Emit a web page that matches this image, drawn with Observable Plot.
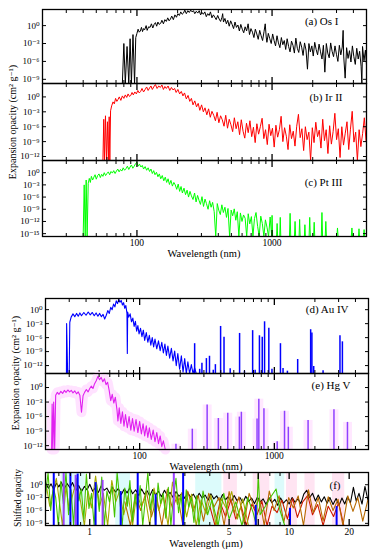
<!DOCTYPE html>
<html><head><meta charset="utf-8">
<script src="https://cdn.jsdelivr.net/npm/d3@7"></script>
<script src="https://cdn.jsdelivr.net/npm/@observablehq/plot@0.6"></script>
<style>
body{margin:0;background:#fff;}
#fig{position:relative;width:380px;height:550px;font-family:"Liberation Serif","DejaVu Serif",serif;color:#000;}
.ytitle{position:absolute;transform:translate(-50%,-50%) rotate(-90deg);white-space:nowrap;font-size:10px;}
.xtitle{position:absolute;transform:translate(-50%,-50%);white-space:nowrap;font-size:10.5px;}
</style></head><body><div id="fig"></div>
<script>
// ---------- DATA (wavelength, log10 opacity) ----------
const osI = [[78,-9.7],[80,-3.0],[82,-9.7],[84.5,-3.5],[87,-9.7],[89,-2.2],[91,-9.7],[93.5,-1.5],[96,-9.7],[98,-2.0],
[100,-1.3],[102,-0.6],[104,-1.1],[106,-0.9],[108,-0.3],[110,-1.0],[112,-0.5],[114,-0.7],[117,0.0],[119,-0.8],[122,-0.2],[125,-0.3],[128,0.3],[131,-0.4],[134,0.2],[137,0.5],[140,-0.1],[143,0.6],[146,0.2],[150,0.4],[153,0.9],[157,0.3],[161,1.0],[165,0.7],[169,1.3],[173,0.8],[177,1.1],[181,1.6],[186,1.0],[191,1.8],[196,1.4],[201,2.0],
[206,1.7],[211,2.3],[216,1.9],[221,2.1],[226,2.6],[232,2.0],[238,2.5],[244,2.2],[250,2.6],[256,2.3],[262,2.5],[268,2.0],[275,2.4],[282,2.1],[289,2.5],[296,1.8],[303,2.2],[310,1.9],[318,2.3],[326,1.5],[334,2.0],[342,1.7],[350,2.3],[359,1.3],[368,1.8],[377,1.4],[386,1.0],[396,1.7],[406,1.1],[416,0.7],[426,1.4],[431,2.0],[437,0.6],[448,1.2],
[459,0.3],[470,0.9],[482,-0.1],[494,0.8],[506,0.2],[519,-0.5],[532,0.6],[545,-0.3],[559,0.1],[573,-0.9],[587,0.2],[602,-0.6],[617,-1.2],[632,-0.2],[648,-0.9],[665,0.3],[681,-1.5],[698,-0.5],[716,-1.1],[734,-2.0],[752,-0.6],[771,-1.4],[790,-2.3],[810,-0.8],[830,-1.7],[851,-2.5],[872,-1.0],[890,0.3],[905,-1.9],[916,-2.8],[938,-1.3],[962,-2.2],[986,-3.0],[1010,-1.4],
[1035,-2.5],[1061,-3.4],[1088,-1.7],[1115,-2.9],[1143,-3.7],[1172,-2.0],[1201,-3.2],[1231,-2.5],[1262,-4.0],[1293,-2.2],[1326,-3.5],[1359,-4.4],[1393,-2.6],[1428,-3.3],[1463,-4.6],[1500,-2.1],[1538,-3.8],[1576,-4.5],[1616,-2.7],[1656,-3.6],[1697,-5.0],[1740,-2.9],[1784,-4.1],[1828,-7.3],[1874,-3.0],[1921,-4.4],[1969,-3.4],[2018,-5.1],[2069,-2.8],[2120,-4.0],[2173,-4.9],[2228,-3.1],[2284,-4.4],[2341,-5.6],[2399,-3.3],[2459,-7.8],[2521,-3.0],[2584,-4.6],[2648,-5.4],[2715,-2.9],[2782,-4.3],[2852,-5.2],[2923,-3.4],[2996,-4.8],[3071,-6.0],[3148,-3.3],[3227,-4.9],[3307,-3.6],[3358,-0.8],[3390,-5.1],[3475,-8.8],[3562,-3.7],[3651,-5.5],[3742,-4.2],[3836,-6.1],[3932,-3.4],[4030,-5.2],[4130,-6.5],[4234,-3.8],[4340,-5.6],[4448,-4.3],[4560,-6.8],[4620,-9.7],[4674,-3.5],[4790,-5.9],[4910,-4.1],[5000,-6.6]];

const irII = [[56,-12.8],[56.8,-4.5],[57.5,-12.8],[58.5,-3.8],[59.5,-12.8],[60.5,-5.0],[61.5,-12.8],[62.3,-4.0],[63,-12.8],[63.8,-2.8],
[65,-1.8],[66.5,-1.0],[68,-1.4],[69.5,-0.3],[71,-0.9],[72.5,-0.5],[74,0.0],[76,-0.7],[78,0.2],[80,-0.3],[82,0.4],[84,-0.1],[86,0.6],[88,0.1],[90,0.3],[92,0.9],[94,0.4],[96.5,1.0],[99,0.6],[101.5,1.3],[104,0.8],[106.5,1.1],[109,1.7],[112,1.0],[115,1.5],[118,2.0],[121,1.3],[124,1.8],[127,2.2],[130,1.5],[133,2.0],[137,2.5],[141,1.7],[145,2.2],[149,1.9],[153,2.4],[157,1.5],[161,2.1],[165,1.7],[170,2.2],[175,1.3],[180,1.9],[185,1.4],[190,1.7],[195,0.9],[201,1.5],[207,0.6],[213,1.1],[219,0.2],[225,0.8],[232,-0.4],[239,0.3],[246,-0.9],[253,-0.3],[260,-1.6],[268,-0.8],[276,-2.0],[284,-1.3],[292,-2.7],[301,-1.6],[310,-3.0],[319,-2.2],[329,-3.6],[339,-2.4],[349,-4.1],[359,-2.9],[370,-3.7],[381,-4.8],[392,-3.1],[404,-5.2],[416,-3.8],[428,-4.6],[441,-5.9],[454,-3.7],[468,-6.3],[482,-4.5],[496,-5.6],[511,-7.0],[526,-4.2],[542,-6.4],[558,-5.0],[575,-7.6],[592,-4.6],[610,-6.9],[628,-8.3],[647,-5.3],[666,-7.2],[686,-4.8],[707,-8.0],[728,-6.1],[750,-9.2],[772,-5.4],[795,-7.5],[819,-6.0],[844,-4.3],[869,-8.4],[895,-6.6],[922,-9.6],[950,-5.5],[978,-7.8],[1007,-6.3],
[1037,-10.1],[1068,-5.7],[1100,-8.1],[1133,-6.6],[1167,-3.9],[1202,-9.0],[1238,-6.2],[1275,-7.9],[1313,-10.6],[1352,-5.6],[1393,-8.4],[1435,-6.9],[1478,-9.9],[1522,-5.9],[1568,-3.5],[1615,-8.2],[1663,-6.4],[1713,-10.8],[1764,-6.0],[1817,-8.6],[1872,-7.1],[1928,-12.8],[1986,-6.2],[2045,-9.2],[2107,-5.1],[2170,-8.0],[2235,-6.7],[2302,-10.3],[2371,-4.5],[2442,-8.8],[2515,-6.6],[2591,-11.4],[2668,-5.8],[2748,-9.5],[2831,-7.0],[2916,-3.3],[3003,-8.6],[3093,-6.4],[3186,-12.2],[3282,-6.0],[3380,-9.7],[3481,-7.3],[3586,-5.0],[3693,-10.6],[3804,-6.5],[3918,-2.9],[4036,-9.1],[4157,-7.1],[4282,-12.8],[4410,-6.6],[4542,-10.0],[4679,-7.4],[4819,-4.2],[4964,-9.0]];

const ptIII = [[40,-15.7],[40.7,-3.0],[41.4,-15.7],[42.1,-1.8],[42.8,-15.7],[43.6,-2.6],[44.4,-1.4],[45.2,-2.4],[46,-0.9],[47,-1.8],[48,-1.1],[49,-0.5],[50,-1.6],[51.2,-0.7],[52.4,-0.3],[53.6,-1.2],[54.8,-0.4],[56,-0.9],[57.3,0.0],[58.6,-0.7],[60,-0.2],[61.4,0.2],[62.8,-0.5],[64.3,0.3],[65.8,-0.1],[67.3,0.5],[68.9,-0.2],[70.5,0.4],[72.1,0.9],[73.8,0.2],[75.5,0.8],[77.3,0.4],[79.1,1.2],[81,0.6],[83,1.0],[85,1.6],[87,0.8],[89,1.4],[91,1.9],[93.2,1.1],[95.4,1.6],[97.6,2.2],[100,2.6],[102,1.6],[104.5,2.1],[107,1.4],[109.5,1.8],[112,0.9],[115,1.5],[118,0.6],[121,1.2],[124,0.3],[127,0.9],[130,-0.2],[133,0.5],[136,-0.5],[139.5,0.1],[143,-1.0],[146.5,-0.3],[150,-1.5],[154,-0.7],[158,-2.0],[162,-1.1],[166,-2.4],[170,-1.5],[174,-2.9],[178.5,-1.9],[183,-3.3],[187.5,-2.4],[192,-3.0],[197,-4.1],[202,-2.8],[207,-4.6],[212,-3.4],[217,-5.0],[223,-3.8],[229,-5.4],[235,-4.3],[241,-6.0],[247,-4.6],[253,-5.7],[260,-6.6],[267,-5.0],[274,-7.2],[281,-5.6],[288,-6.8],[295,-7.8],[303,-5.9],[311,-8.3],[319,-6.5],[327,-7.6],[336,-9.0],[345,-6.9],[354,-8.5],[363,-7.3],[373,-9.6],[383,-15.7],[393,-7.6],[403,-9.2],[414,-10.3],[425,-7.9],[436,-9.8],[448,-8.5],[460,-11.0],[472,-8.8],[485,-15.7],[498,-9.2],[511,-10.6],[525,-8.9],[539,-11.7],[553,-9.6],[568,-15.7],[583,-9.9],[599,-12.0],[615,-10.4],[632,-11.2],[649,-15.7],[666,-10.1],[684,-12.6],[703,-10.8],[722,-15.7],[741,-11.3],[761,-9.8],[782,-13.2],[803,-15.7],[825,-10.7],[847,-12.5],[870,-15.7],[893,-11.6],[917,-13.4],[942,-15.7],[968,-10.9],[994,-15.7],
[1000,-10.5],[1010,-15.7],[1080,-15.7],[1090,-12.5],[1100,-15.7],[1140,-15.7],[1150,-11.0],[1160,-15.7],[1345,-15.7],[1360,-10.0],[1375,-15.7],[1465,-15.7],[1480,-12.0],[1495,-15.7],[1585,-15.7],[1600,-11.5],[1615,-15.7],[1735,-15.7],[1750,-12.8],[1765,-15.7],[1880,-15.7],[1900,-11.0],[1920,-15.7],[2030,-15.7],[2050,-12.2],[2070,-15.7],[2315,-15.7],[2340,-9.8],[2365,-15.7],[2475,-15.7],[2500,-12.0],[2525,-15.7],[3020,-15.7],[3050,-13.6],[3080,-15.7],[3860,-15.7],[3900,-13.6],[3940,-15.7],[4360,-15.7],[4400,-13.8],[4440,-15.7],[4750,-15.7],[4800,-14.0],[4850,-15.7]];

const auIV = [[28.6,-13.7],[28.7,-3.0],[29.2,-13.7],[30,-13.7],[30.3,-2.7],[31,-1.6],[32,-0.9],[33,-1.5],[34,-0.8],[35,-1.4],[36,-0.7],[37,-1.3],[38.5,-0.6],[40,-1.2],[41.5,-0.5],[43,-1.1],[44.5,-0.6],[46,-1.3],[47.5,-0.7],[49,-1.4],[50.5,-0.8],[52,-1.5],[53.5,-1.0],[55,-2.0],[56.5,-1.2],[58,-0.2],[59.5,-0.8],[61,0.5],[62.5,0.0],[64,1.2],[65.5,0.6],[67,1.9],[68.5,1.3],[70,2.2],[71.5,1.6],[73,2.0],[74.5,1.0],[76,1.5],[77.5,0.3],[79,0.9],[80.5,-0.8],[81,-9.4],[81.5,-0.5],[83,-1.6],[85,-0.9],[87,-2.6],[89,-1.8],[91,-3.6],[93,-2.5],[95,-4.6],[97,-3.4],[99,-5.2],[101.5,-4.0],[104,-5.8],[106.5,-4.4],[109,-6.6],[112,-4.9],[115,-7.0],[118,-5.5],[121,-7.6],[124,-6.0],[127,-8.0],[130,-6.3],[134,-8.4],[138,-6.7],[142,-8.8],[146,-7.0],[150,-9.3],[154,-7.4],[158,-9.8],[162,-7.8],[167,-10.4],[172,-8.3],[177,-11.0],[182,-8.9],[187,-12.0],[192,-9.4],[198,-12.8],[204,-9.9],[210,-13.4],[216,-10.5],[222,-13.7],[228,-11.2],[235,-13.7],[242,-11.8],[249,-13.7],[256,-12.5],[263,-13.7]];
const auIVLines = [[256,-7.3],[279,-12.8],[290,-11.5],[313,-10.5],[330,-10.0],[352,-13.0],[365,-11.8],[399,-3.6],[423,-5.9],[470,-12.7],[552,-5.1],[600,-13.2],[690,-4.5],[720,-13.0],[775,-5.6],[813,-5.9],[846,-2.6],[910,-4.0],[960,-12.8],[1110,-7.3],[1160,-12.6],[1250,-13.2],[1490,-10.7],[1860,-4.3],[1900,-5.0],[1960,-12.2],[2300,-13.1],[3070,-5.6],[3200,-6.9]];

const hgV = [[22.2,-12.8],[22.4,-3.4],[22.7,-12.8],[23,-3.0],[23.4,-12.8],[23.8,-1.6],[24.5,-1.0],[25.2,-1.4],[26,-0.8],[26.8,-1.2],[27.6,-0.6],[28.4,-1.0],[29.3,-0.5],[30.2,-0.9],[31.1,-0.6],[32,-1.1],[33,-0.7],[34,-1.3],[35,-0.9],[36,-1.6],[37,-5.1],[38,-1.7],[39,-1.0],[40.2,-0.4],[41.4,-0.9],[42.6,-0.2],[43.8,0.3],[45,-0.2],[46.3,0.8],[47.6,1.4],[49,2.3],[50.4,1.6],[51.8,2.1],[53.3,1.2],[54.8,1.8],[56.3,0.6],[57.8,1.1],[59.4,-0.6],[61,-2.7],[62.6,-1.4],[64.3,-3.2],[66,-2.0],[67.8,-4.5],[69,-6.9],[70.5,-4.2],[72.5,-7.4],[74.5,-5.0],[76.5,-8.0],[78.5,-5.6],[81,-8.3],[83.5,-6.0],[86,-8.8],[88.5,-6.4],[91,-9.0],[94,-6.6],[97,-9.3],[100,-7.0],[103,-9.6],[106,-7.5],[109,-10.0],[112,-7.9],[115,-10.3],[118,-8.3],[122,-10.7],[126,-8.8],[130,-11.2],[134,-9.3],[138,-11.6],[142,-10.0],[146,-12.2],[150,-11.0],[155,-12.8]];
const hgVLines = [[186,-11.7],[246,-8.6],[317,-3.6],[384,-6.4],[451,-5.3],[550,-6.1],[569,-5.1],[744,-6.5],[767,-2.4],[837,-4.4],[1050,-11.2],[1190,-4.9],[1270,-8.2],[1780,-6.8],[2770,-4.6],[3490,-7.2]];

// panel (f): wavelength in micrometres
const shiftedBlack = [[0.6,0.5],[0.62,-0.8],[0.64,0.2],[0.66,-1.2],[0.68,0.4],[0.7,-0.5],[0.72,0.6],[0.745,-1.0],[0.77,0.3],[0.795,-0.7],[0.82,0.5],[0.85,-1.4],[0.88,-0.2],[0.91,-1.6],[0.94,-0.4],[0.97,-1.2],[1.0,0.1],[1.035,-1.5],[1.07,-0.6],[1.105,-1.8],[1.14,-0.3],[1.18,-1.3],[1.22,-0.8],[1.26,-2.0],[1.3,-0.6],[1.345,-1.7],[1.39,-0.9],[1.44,-2.3],[1.49,-1.0],[1.54,-1.9],[1.59,-0.7],[1.64,-2.1],[1.7,-1.2],[1.76,-2.5],[1.82,-1.0],[1.88,-2.2],[1.94,-1.4],[2.0,-2.6],[2.07,-1.1],[2.14,-2.4],[2.21,-1.5],[2.29,-2.8],[2.37,-1.3],[2.45,-2.5],[2.53,-1.8],[2.62,-3.0],[2.71,-1.6],[2.8,-2.7],[2.9,-2.0],[3.0,-3.2],[3.1,-1.8],[3.2,-2.9],[3.31,-2.2],[3.42,-3.4],[3.54,-2.0],[3.66,-3.1],[3.79,-2.4],[3.92,-3.6],[4.05,-2.1],[4.19,-3.3],[4.33,-2.6],[4.48,-3.8],[4.63,-2.3],[4.79,-3.5],[4.95,-2.8],[5.12,-4.0],[5.3,-2.5],[5.48,-3.7],[5.67,-3.0],[5.86,-4.2],[6.06,-2.7],[6.27,-3.9],[6.48,-3.1],[6.7,-4.4],[6.93,-2.9],[7.17,-4.0],[7.41,-3.3],[7.66,-4.6],[7.92,-3.0],[8.19,-4.2],[8.47,-3.4],[8.76,-4.8],[9.06,-3.1],[9.37,-4.3],[9.69,-3.5],[10.0,-4.5],[10.35,-3.0],[10.7,-4.1],[11.07,-3.3],[11.45,-4.4],[11.84,-2.2],[12.25,-1.3],[12.67,-3.0],[13.1,-2.0],[13.55,-3.8],[14.0,-2.4],[14.5,-4.0],[15.0,-2.8],[15.5,-4.3],[16.0,-3.0],[16.6,-4.6],[17.2,-3.2],[17.8,-4.8],[18.4,-3.1],[19.0,-4.5],[19.6,-2.8],[20.3,-4.2],[21.0,-0.6],[21.7,-3.8],[22.4,-2.0],[23.2,-4.5],[24.0,-0.4],[24.8,-3.5]];
const shiftedGreen = [[0.6,-2.5],[0.618,2.8],[0.637,-6.0],[0.656,-0.5],[0.675,-3.0],[0.696,-9.5],[0.716,0.8],[0.738,-4.5],[0.76,2.8],[0.783,-7.0],[0.806,-1.2],[0.83,-9.5],[0.855,1.5],[0.881,-3.8],[0.907,-1.0],[0.934,-8.0],[0.962,2.5],[0.991,-5.5],[1.021,-2.0],[1.052,-9.5],[1.083,0.0],[1.116,-6.2],[1.149,1.8],[1.184,-9.5],[1.219,-1.5],[1.256,-4.0],[1.293,-0.3],[1.332,-7.5],[1.372,2.8],[1.413,-3.2],[1.455,-9.5],[1.499,-0.8],[1.544,-5.0],[1.59,1.0],[1.638,-8.6],[1.687,-2.2],[1.738,-6.0],[1.79,-0.2],[1.844,-9.5],[1.899,-3.5],[1.956,2.8],[2.015,-5.8],[2.075,-1.6],[2.137,-9.5],[2.201,0.4],[2.267,-4.4],[2.335,-2.0],[2.405,-7.8],[2.478,-0.6],[2.552,-9.5],[2.628,-3.0],[2.707,1.5],[2.789,-6.5],[2.872,-2.4],[2.958,-9.5],[3.047,-1.2],[3.138,-5.2],[3.233,-3.0],[3.33,-8.8],[3.43,-2.6],[3.53,-9.5],[3.7,-1.5],[3.9,-7],[4.1,-3.5],[4.4,-9.5],[4.7,-2],[5.0,-8],[5.4,-4],[5.8,-9.5],[6.2,-3],[6.6,-6.5],[6.85,-9.5],[7.0,2.5],[7.15,-7],[7.6,-5],[8.1,-2.8],[8.6,-1.0],[9.0,-6],[9.5,-9.5]];
const shiftedOlive = [[0.61,-1],[0.63,-5],[0.65,-2.2],[0.68,1.5],[0.7,-3],[0.73,-9.5],[0.76,-0.5],[0.79,-6],[0.82,-2.5],[0.86,1.2],[0.9,-4],[0.94,-9.5],[0.98,-1.5],[1.02,-5.4],[1.07,2.0],[1.12,-5],[1.17,-2],[1.23,-9.5],[1.29,1.0],[1.35,-4],[1.41,-1.5],[1.48,-7],[1.56,-2.5],[1.64,-9.5],[1.72,-2],[1.81,-5],[1.9,-3],[2.0,-9.5],[2.1,-0.8],[2.22,-6],[2.34,-2.6],[2.47,-9.5],[2.6,0.6],[2.75,-4.6],[2.9,-1.8],[3.06,-7.5],[3.24,-2.2],[3.42,-9.5],[3.62,-3.5],[3.83,-6.8],[4.05,-2.4],[4.3,-9.5],[4.56,-3.2],[4.85,-5.6],[5.15,-1.6],[5.5,-8],[5.85,-3.3],[6.25,-9.5]];
const shiftedBrown = [[1.5,-4],[1.6,-9.5],[1.7,-2.2],[1.8,-6],[1.92,-1.5],[2.04,-7.5],[2.17,-3],[2.3,-9.5],[2.45,-1],[2.6,-5.5],[2.76,-2.4],[2.93,-9.5],[3.1,-1.5],[3.3,-6.2],[3.5,-2.5],[3.72,-8.5],[3.95,-2.0],[4.2,-5.2],[4.45,-3],[4.72,-9.5],[5.0,-1.6],[5.3,-6.5],[5.6,-2.8],[5.95,-9],[6.3,-2],[6.7,-5.5],[7.1,-3.2],[7.5,-9.5],[7.95,-1.5],[8.4,-6],[8.9,-2.6],[9.4,-8.8],[9.95,-3],[10.5,-5.4],[11.1,-2.6],[11.8,-9.5],[12.5,-1.2],[13.2,-6.5],[14.0,-3],[14.8,-8.4],[15.7,-2.8],[16.6,-6],[17.6,-3.4],[18.6,-9.5],[19.7,-2.6],[20.9,-6.2],[22.1,-3],[23.4,-8.5],[24.8,-3.6]];
const shiftedRed = [[4.0,-5],[4.25,-9.5],[4.5,-4],[4.8,-7.5],[5.1,-3.5],[5.4,-8],[5.75,-5],[6.1,-9.5],[6.5,-4.5],[6.9,-7],[7.3,-3.8],[7.75,-9.5],[8.2,-5],[8.7,-6.5],[9.2,-3.6],[9.8,-8],[10.4,-3.2],[11.0,-7.6],[11.7,-4],[12.4,-2.5],[13.1,-7],[13.9,-4.6],[14.8,-9.5],[15.7,-5],[16.7,-7.4],[17.7,-4.2],[18.8,-9.5]];
const shiftedBlueLines = [[0.66,2.85],[0.8,2.85],[0.87,2.5],[1.07,0.5],[1.43,-1.6],[1.74,2.85],[2.14,-2.3],[2.94,2.85],[6.8,-4.8],[10.1,-5.5],[17.3,-5.1]];
const shiftedVioletLines = [[0.74,2.85],[0.85,2.2],[1.16,1.0],[2.64,2.85]];
const cyanBands = [[0.72,0.95],[1.35,1.6],[3.4,4.6],[8.5,9.5]];
const pinkBands = [[4.7,5.5],[6.6,8.0],[9.7,11],[12.0,13.5],[16.5,19]];

// ticks
const nmMajor = [100, 1000];
const nmMinor = [30,40,50,60,70,80,90,200,300,400,500,600,700,800,900,2000,3000,4000];
const umMajor = [1, 5, 7, 10, 20];
const umMinor = [0.7,0.8,0.9,2,3,4,6,8,9];
const ticksA = [0,-3,-6,-9];
const ticksB = [0,-3,-6,-9,-12];
const ticksC = [0,-3,-6,-9,-12,-15];
const ticksF = [0,-3,-6,-9];

// ---------- DRAWING ----------
const fig = document.getElementById("fig");
const FONT = '"Liberation Serif","DejaVu Serif",serif';
const SUP = {"0":"⁰","1":"¹","2":"²","3":"³","4":"⁴","5":"⁵","6":"⁶","7":"⁷","8":"⁸","9":"⁹","-":"⁻"};
const pow = d => "10" + String(d).split("").map(c => SUP[c]).join("");
const X = d => d[0], Y = d => d[1];

function panel(o) {
  const h = o.bottom - o.top;
  const blank = () => "";
  const marks = [
    ...o.marks,
    Plot.frame({stroke: "black", strokeWidth: 1.3}),
    Plot.axisX({anchor: "bottom", ticks: o.xMinor, tickSize: 3, dy: -3, tickFormat: blank, label: null}),
    Plot.axisX({anchor: "bottom", ticks: o.xMajor, tickSize: 6, dy: -6, tickFormat: blank, label: null, strokeWidth: 1.3}),
    Plot.axisX({anchor: "top", ticks: o.xMinor, tickSize: 3, dy: 3, tickFormat: blank, label: null}),
    Plot.axisX({anchor: "top", ticks: o.xMajor, tickSize: 6, dy: 6, tickFormat: blank, label: null, strokeWidth: 1.3}),
    Plot.axisY({anchor: "left", ticks: o.yTicks, tickSize: 4, dx: 4, tickPadding: 3, tickFormat: pow, label: null, fontSize: 9}),
    Plot.axisY({anchor: "right", ticks: o.yTicks, tickSize: 4, dx: -4, tickFormat: blank, label: null}),
    Plot.text([o.label], {text: d => d, frameAnchor: "top-right", lineAnchor: "middle", textAnchor: "end", dx: o.ldx, dy: o.ldy, fontSize: 11})
  ];
  if (o.xLabels) marks.push(Plot.axisX({anchor: "bottom", ticks: o.xLabels, tickSize: 0, tickPadding: 3, tickFormat: d => String(d), label: null, fontSize: 9.5}));
  const svg = Plot.plot({
    width: 380, height: h,
    marginTop: 0, marginBottom: 0, marginLeft: o.left, marginRight: 380 - o.right,
    style: {background: "transparent", overflow: "visible", fontFamily: FONT, fontSize: "9px"},
    x: {type: "log", domain: o.xDomain},
    y: {domain: o.yDomain},
    marks
  });
  svg.style.position = "absolute";
  svg.style.left = "0px";
  svg.style.top = o.top + "px";
  fig.appendChild(svg);
}

const nmDom = [20, 5000];
const yA = [-9.7, 2.7], yB = [-12.8, 2.7], yC = [-15.7, 3], yD = [-13.7, 2.4], yE = [-12.8, 2.9], yF = [-9.5, 2.85];

panel({top: 9, bottom: 83, left: 42, right: 366, xDomain: nmDom, yDomain: yA, yTicks: ticksA, xMajor: nmMajor, xMinor: nmMinor,
  label: "(a) Os I", ldx: -28, ldy: 12,
  marks: [Plot.line(osI, {x: X, y: Y, stroke: "black", strokeWidth: 1})]});
panel({top: 83, bottom: 160, left: 42, right: 366, xDomain: nmDom, yDomain: yB, yTicks: ticksB, xMajor: nmMajor, xMinor: nmMinor,
  label: "(b) Ir II", ldx: -24, ldy: 14,
  marks: [Plot.line(irII, {x: X, y: Y, stroke: "#ff0000", strokeWidth: 1})]});
panel({top: 160, bottom: 236, left: 42, right: 366, xDomain: nmDom, yDomain: yC, yTicks: ticksC, xMajor: nmMajor, xMinor: nmMinor, xLabels: nmMajor,
  label: "(c) Pt III", ldx: -24, ldy: 22,
  marks: [Plot.line(ptIII, {x: X, y: Y, stroke: "#00ff00", strokeWidth: 1})]});

panel({top: 298, bottom: 373, left: 45, right: 368, xDomain: nmDom, yDomain: yD, yTicks: ticksB, xMajor: nmMajor, xMinor: nmMinor,
  label: "(d) Au IV", ldx: -20, ldy: 11,
  marks: [
    Plot.line(auIV, {x: X, y: Y, stroke: "#0000ff", strokeWidth: 1.1}),
    Plot.ruleX(auIVLines, {x: X, y1: () => yD[0], y2: Y, stroke: "#0000ff", strokeWidth: 1.5})
  ]});
panel({top: 373, bottom: 449, left: 45, right: 368, xDomain: nmDom, yDomain: yE, yTicks: ticksB, xMajor: nmMajor, xMinor: nmMinor, xLabels: nmMajor,
  label: "(e) Hg V", ldx: -18, ldy: 12,
  marks: [
    Plot.line(hgV, {x: X, y: Y, stroke: "#ffe2ff", strokeWidth: 10}),
    Plot.ruleX(hgVLines, {x: X, y1: () => yE[0], y2: Y, stroke: "#ffe8ff", strokeWidth: 9}),
    Plot.line(hgV, {x: X, y: Y, stroke: "#e020f0", strokeWidth: 1.1}),
    Plot.ruleX(hgVLines, {x: X, y1: () => yE[0], y2: Y, stroke: "#9040ff", strokeWidth: 1.5})
  ]});

panel({top: 472, bottom: 525, left: 45, right: 368, xDomain: [0.6, 25], yDomain: yF, yTicks: ticksF, xMajor: umMajor, xMinor: umMinor, xLabels: umMajor,
  label: "(f)", ldx: -28, ldy: 13,
  marks: [
    Plot.rect(cyanBands, {x1: X, x2: Y, fill: "#dcfbfb"}),
    Plot.rect(pinkBands, {x1: X, x2: Y, fill: "#ffe4f2"}),
    Plot.line(shiftedBlack, {x: X, y: Y, stroke: "black", strokeWidth: 1.1}),
    Plot.line(shiftedRed, {x: X, y: Y, stroke: "#cc1a00", strokeWidth: 1.1}),
    Plot.line(shiftedBrown, {x: X, y: Y, stroke: "#b86a00", strokeWidth: 1.1}),
    Plot.line(shiftedOlive, {x: X, y: Y, stroke: "#a8a800", strokeWidth: 1.1}),
    Plot.line(shiftedGreen, {x: X, y: Y, stroke: "#44c400", strokeWidth: 1.1}),
    Plot.ruleX(shiftedVioletLines, {x: X, y1: () => yF[0], y2: Y, stroke: "#9a40ff", strokeWidth: 2}),
    Plot.ruleX(shiftedBlueLines, {x: X, y1: () => yF[0], y2: Y, stroke: "#0000ff", strokeWidth: 2})
  ]});

// titles (outside the SVGs)
function addText(cls, txt, x, y, size) {
  const d = document.createElement("div");
  d.className = cls; d.textContent = txt;
  d.style.left = x + "px"; d.style.top = y + "px";
  if (size) d.style.fontSize = size + "px";
  fig.appendChild(d);
}
addText("ytitle", "Expansion opacity (cm² g⁻¹)", 12, 122);
addText("xtitle", "Wavelength (nm)", 204, 253);
addText("ytitle", "Expansion opacity (cm² g⁻¹)", 15, 373);
addText("xtitle", "Wavelength (nm)", 206, 466);
addText("ytitle", "Shifted opacity", 18, 498, 9.5);
addText("xtitle", "Wavelength (μm)", 206, 543);
</script></body></html>
